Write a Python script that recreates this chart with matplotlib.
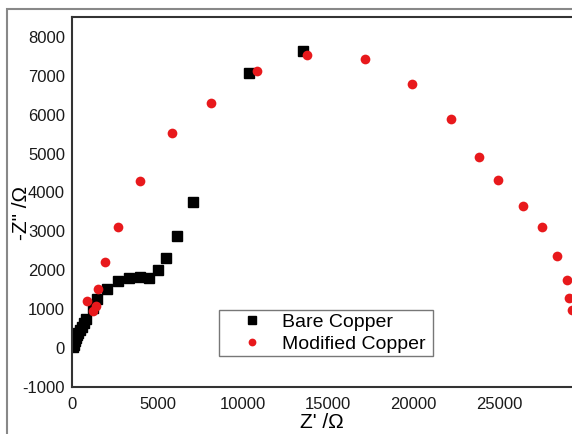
import numpy as np
import matplotlib.pyplot as plt
from matplotlib.patches import Rectangle

plt.rcParams['font.family'] = ['Liberation Sans', 'DejaVu Sans']
plt.rcParams['axes.unicode_minus'] = False

# Bare copper (black squares)
bare_x = [40, 90, 150, 210, 280, 370, 460, 570, 700, 820, 1250, 1480, 2030, 2670, 3360, 3980,
          4530, 5020, 5500, 6170, 7100, 10380, 13500]
bare_y = [20, 90, 170, 250, 330, 400, 470, 540, 640, 760, 1020, 1260, 1520, 1720, 1790, 1830,
          1790, 2005, 2320, 2880, 3760, 7080, 7630]

# Modified copper (red circles)
mod_x = [860, 1250, 1400, 1540, 1930, 2710, 3980, 5840, 8140, 10850, 13740, 17130, 19890,
         22170, 23810, 24920, 26420, 27500, 28380, 28960, 29120, 29260]
mod_y = [1210, 960, 1080, 1510, 2220, 3100, 4290, 5520, 6290, 7110, 7530, 7430, 6800,
         5890, 4900, 4320, 3650, 3120, 2370, 1750, 1280, 980]

fig = plt.figure(figsize=(5.72, 4.34), dpi=100)
# outer frame of the original picture
fig.patches.append(Rectangle((7 / 572, -0.1), 1.2, 1 - 9 / 434 + 0.1, transform=fig.transFigure,
                             fill=False, edgecolor='#888888', linewidth=1.5))

ax = fig.add_axes([72 / 572, 1 - 387 / 434, 500 / 572, 370 / 434])
ax.plot(bare_x, bare_y, 's', color='black', markersize=6.5, label='Bare Copper')
ax.plot(mod_x, mod_y, 'o', color='#e8191c', markersize=7, markeredgewidth=0, label='Modified Copper')

ax.set_xlim(0, 29270)
ax.set_ylim(-1000, 8510)
ax.set_xticks([0, 5000, 10000, 15000, 20000, 25000])
ax.set_yticks(range(-1000, 8001, 1000))
ax.tick_params(axis='x', length=0, labelsize=12, pad=7, colors='#1a1a1a')
ax.tick_params(axis='y', length=0, labelsize=12, pad=5, colors='#1a1a1a')
ax.spines['right'].set_visible(False)
for s in ['left', 'bottom', 'top']:
    ax.spines[s].set_linewidth(1.5)
    ax.spines[s].set_color('#333333')

ax.set_xlabel("Z' /\u03a9", fontsize=15, labelpad=1)
ax.set_ylabel('-Z" /\u03a9', fontsize=15)
ax.yaxis.set_label_coords(-0.082, 0.47)

leg = ax.legend(loc='lower left', bbox_to_anchor=(0.294, 0.0838, 0.428, 0.138), mode='expand',
                fontsize=14, frameon=True, fancybox=False, borderpad=0.15, handletextpad=0.0,
                labelspacing=0.25, handlelength=3.1, borderaxespad=0, markerscale=0.8)
leg.get_frame().set_edgecolor('#555555')
leg.get_frame().set_linewidth(1.0)

fig.savefig('out.png', dpi=100)
